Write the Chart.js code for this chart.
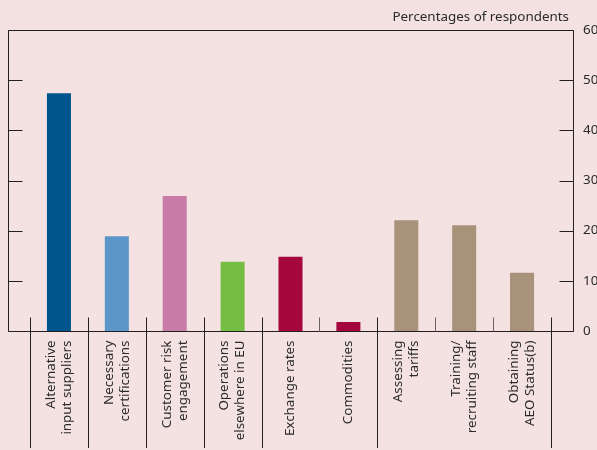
<!DOCTYPE html>
<html>
<head>
<meta charset="utf-8">
<script src="https://cdn.jsdelivr.net/npm/chart.js@4/dist/chart.umd.min.js"></script>
<style>
  html, body { margin: 0; padding: 0; background: #f4e2e3; }
  #wrap { width: 597px; height: 450px; }
</style>
</head>
<body>
<div id="wrap"><canvas id="chart" width="597" height="450"></canvas></div>
<script>
var categories = [
  ['Alternative', 'input suppliers'],
  ['Necessary', 'certifications'],
  ['Customer risk', 'engagement'],
  ['Operations', 'elsewhere in EU'],
  ['Exchange rates'],
  ['Commodities'],
  ['Assessing', 'tariffs'],
  ['Training/', 'recruiting staff'],
  ['Obtaining', 'AEO Status(b)']
];
var values = [47.4, 18.9, 26.9, 13.8, 14.8, 1.8, 22.1, 21.1, 11.6];
var yTicks = [0, 10, 20, 30, 40, 50, 60];
var barColors = ['#00568c', '#5a97c8', '#c97ba7', '#76bd43', '#a5073d', '#a5073d', '#a8927a', '#a8927a', '#a8927a'];
var unitLabel = 'Percentages of respondents';

// which category boundaries run down through the label area
var longSeparators = [0, 1, 2, 3, 4, 6, 9];

var ink = '#231f20';
var textColor = '#2a2a2a';
var font = '"Noto Sans", "Open Sans", sans-serif';

var framePlugin = {
  id: 'frame',
  afterDraw: function (chart) {
    var c = chart.ctx, a = chart.chartArea;
    var x = chart.scales.x, y = chart.scales.y;
    var left = 8.5, right = 573.5, top = Math.round(a.top) + 0.5, bottom = Math.round(a.bottom) + 0.5;
    var step = x.getPixelForValue(1) - x.getPixelForValue(0);
    c.save();
    c.strokeStyle = ink;
    c.lineWidth = 1;
    c.beginPath();
    c.moveTo(left, top); c.lineTo(right, top); c.lineTo(right, bottom); c.lineTo(left, bottom); c.closePath();
    c.stroke();
    // inward ticks on both sides
    yTicks.forEach(function (v) {
      var py = Math.round(y.getPixelForValue(v)) + 0.5;
      c.beginPath();
      c.moveTo(left, py); c.lineTo(left + 14, py);
      c.moveTo(right, py); c.lineTo(right - 14, py);
      c.stroke();
    });
    // category separators
    var n = categories.length;
    for (var i = 0; i <= n; i++) {
      var px = Math.round(x.getPixelForValue(0) - step / 2 + i * step) + 0.5;
      var isLong = longSeparators.indexOf(i) >= 0;
      c.strokeStyle = isLong ? ink : '#6b6264';
      c.beginPath();
      c.moveTo(px, bottom - 14);
      c.lineTo(px, isLong ? 448 : bottom);
      c.stroke();
    }
    // rotated category labels, text ending just under the axis
    c.fillStyle = textColor;
    c.font = '13.4px ' + font;
    c.textAlign = 'right';
    c.textBaseline = 'middle';
    var lh = 16;
    categories.forEach(function (lines, i) {
      var cx = x.getPixelForValue(i);
      lines.forEach(function (t, k) {
        c.save();
        c.translate(cx - (lines.length - 1) * lh / 2 + k * lh, bottom + 9);
        c.rotate(-Math.PI / 2);
        c.fillText(t, 0, 0);
        c.restore();
      });
    });
    c.textAlign = 'right';
    c.textBaseline = 'alphabetic';
    c.fillText(unitLabel, 569, 21);
    c.restore();
  }
};

new Chart(document.getElementById('chart'), {
  type: 'bar',
  data: {
    labels: categories,
    datasets: [{
      data: values,
      backgroundColor: barColors,
      borderWidth: 0,
      barPercentage: 0.415,
      categoryPercentage: 1
    }]
  },
  options: {
    responsive: false,
    animation: false,
    layout: { padding: { left: 30, top: 30, right: 0, bottom: 0 } },
    plugins: { legend: { display: false }, tooltip: { enabled: false } },
    scales: {
      x: {
        grid: { display: false, drawTicks: false },
        border: { display: false },
        ticks: { display: false },
        afterFit: function (s) { s.height = 119; s.paddingLeft = 0; s.paddingRight = 0; }
      },
      y: {
        position: 'right',
        min: 0,
        max: 60,
        grid: { display: false, drawTicks: false },
        border: { display: false },
        ticks: {
          stepSize: 10,
          color: textColor,
          font: { family: font, size: 13.4 },
          padding: 32
        },
        afterFit: function (s) { s.width = 46; s.paddingTop = 0; s.paddingBottom = 0; }
      }
    }
  },
  plugins: [framePlugin]
});
</script>
</body>
</html>
